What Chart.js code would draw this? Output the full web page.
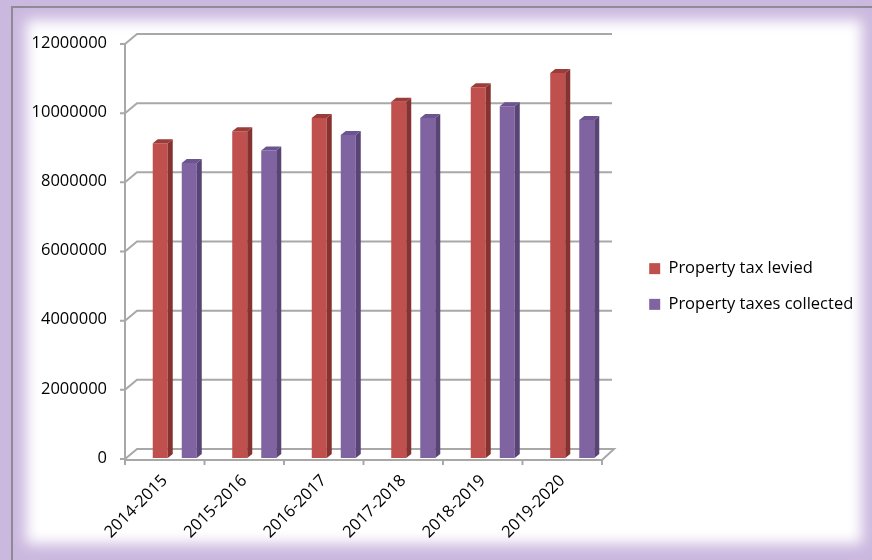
<!DOCTYPE html>
<html><head><meta charset="utf-8">
<script src="https://cdn.jsdelivr.net/npm/chart.js@4.4.1/dist/chart.umd.min.js"></script>
<style>
html,body{margin:0;padding:0;}
body{width:872px;height:560px;background:#cbb8df;position:relative;overflow:hidden;}
#frame{position:absolute;left:11px;top:6px;width:870px;height:560px;border-left:2px solid #8e8a94;border-top:2px solid #8e8a94;}
#glow{position:absolute;left:26px;top:20px;width:836px;height:524px;background:#fff;filter:blur(7px);}
#wrap{position:absolute;left:0;top:0;width:872px;height:560px;}
</style></head><body>
<div id="frame"></div><div id="glow"></div>
<div id="wrap"><canvas id="c" width="872" height="560"></canvas></div>
<script>
const categories = ['2014-2015','2015-2016','2016-2017','2017-2018','2018-2019','2019-2020'];
const taxLevied = [9100000, 9450000, 9830000, 10300000, 10720000, 11130000];
const taxCollected = [8530000, 8890000, 9340000, 9830000, 10170000, 9770000];
const yTicks = [0, 2000000, 4000000, 6000000, 8000000, 10000000, 12000000];
const seriesNames = ['Property tax levied', 'Property taxes collected'];

Chart.defaults.font.family = '"Open Sans", Lato, sans-serif';

// 3D look: front plane and back wall offsets relative to the bar plane
const FX = -10, FY = 1, BX = 2, BY = -9, DX = 5, DY = 4;
const sideCol = ['#853230', '#594476'];
const topCol = ['#9c3c39', '#6b5490'];

const depth3d = {
  id: 'depth3d',
  beforeLayout(chart) {
    const lg = chart.legend;
    if (lg && !lg._fixed) {
      const f = lg.fit.bind(lg);
      lg.fit = function () { f(); this.width = 260; };
      lg._fixed = true;
    }
  },
  afterLayout(chart) {
    const lg = chart.legend;
    if (lg) { lg.left += 18; lg.right += 18; lg.top -= 15; lg.bottom -= 15; }
  },
  beforeDatasetsDraw(chart) {
    const {ctx, chartArea: a, scales: {x, y}} = chart;
    ctx.save();
    ctx.strokeStyle = '#a8a8a8';
    ctx.lineWidth = 2;
    y.ticks.forEach(t => {
      const py = y.getPixelForValue(t.value);
      ctx.beginPath();
      ctx.moveTo(a.left + FX - 5, py + FY);
      ctx.lineTo(a.left + FX, py + FY);
      ctx.lineTo(a.left + BX, py + BY);
      ctx.lineTo(a.right, py + BY);
      ctx.stroke();
    });
    const p0 = y.getPixelForValue(0);
    const pT = y.getPixelForValue(yTicks[yTicks.length - 1]);
    ctx.beginPath();
    ctx.moveTo(a.left + FX, pT + FY);
    ctx.lineTo(a.left + FX, p0 + FY + 1);
    ctx.stroke();
    // floor front edge
    ctx.beginPath();
    ctx.moveTo(a.left + FX, p0 + FY + 1);
    ctx.lineTo(a.right + FX, p0 + FY + 1);
    ctx.lineTo(a.right + BX, p0 + BY);
    ctx.lineTo(a.right, p0 + BY);
    ctx.stroke();
    // category ticks
    const cw = x.getPixelForValue(1) - x.getPixelForValue(0);
    for (let i = 0; i <= categories.length; i++) {
      const px = x.getPixelForValue(0) - cw / 2 + i * cw + FX;
      ctx.beginPath();
      ctx.moveTo(px, p0 + FY + 1);
      ctx.lineTo(px, p0 + FY + 6);
      ctx.stroke();
    }
    ctx.restore();
  },
  afterDatasetsDraw(chart) {
    const ctx = chart.ctx;
    ctx.save();
    chart.data.datasets.forEach((ds, di) => {
      chart.getDatasetMeta(di).data.forEach(bar => {
        const {x: bx, y: by, base, width: w} = bar.getProps(['x', 'y', 'base', 'width'], true);
        const l = bx - w / 2, r = bx + w / 2;
        ctx.fillStyle = sideCol[di];
        ctx.beginPath();
        ctx.moveTo(r, by); ctx.lineTo(r + DX, by - DY); ctx.lineTo(r + DX, base - DY); ctx.lineTo(r, base);
        ctx.closePath(); ctx.fill();
        ctx.fillStyle = topCol[di];
        ctx.beginPath();
        ctx.moveTo(l, by); ctx.lineTo(l + DX, by - DY); ctx.lineTo(r + DX, by - DY); ctx.lineTo(r, by);
        ctx.closePath(); ctx.fill();
      });
    });
    ctx.restore();
  }
};

new Chart(document.getElementById('c'), {
  type: 'bar',
  data: {
    labels: categories,
    datasets: [
      {label: seriesNames[0], data: taxLevied, backgroundColor: '#c0504d', borderWidth: 0},
      {label: seriesNames[1], data: taxCollected, backgroundColor: '#8064a2', borderWidth: 0}
    ]
  },
  options: {
    responsive: false,
    animation: false,
    devicePixelRatio: 1,
    layout: {padding: {top: 43, left: 0, right: 0, bottom: 0}},
    datasets: {bar: {categoryPercentage: 0.73, barPercentage: 0.517}},
    scales: {
      x: {
        grid: {display: false, drawTicks: false},
        border: {display: false},
        ticks: {maxRotation: 45, minRotation: 45, labelOffset: -10, padding: 13, color: '#000', font: {size: 16.5}},
        afterFit(s) { s.height = 102; }
      },
      y: {
        min: 0, max: yTicks[yTicks.length - 1],
        afterBuildTicks(s) { s.ticks = yTicks.map(v => ({value: v})); },
        grid: {display: false, drawTicks: false},
        border: {display: false},
        ticks: {padding: 28, color: '#000', font: {size: 16.5}, callback: v => String(v)},
        afterFit(s) { s.width = 135; }
      }
    },
    plugins: {
      legend: {position: 'right', labels: {boxWidth: 11, boxHeight: 11, padding: 19.2, color: '#000', font: {size: 16.5}}},
      tooltip: {enabled: false}
    }
  },
  plugins: [depth3d]
});
</script>
</body></html>
